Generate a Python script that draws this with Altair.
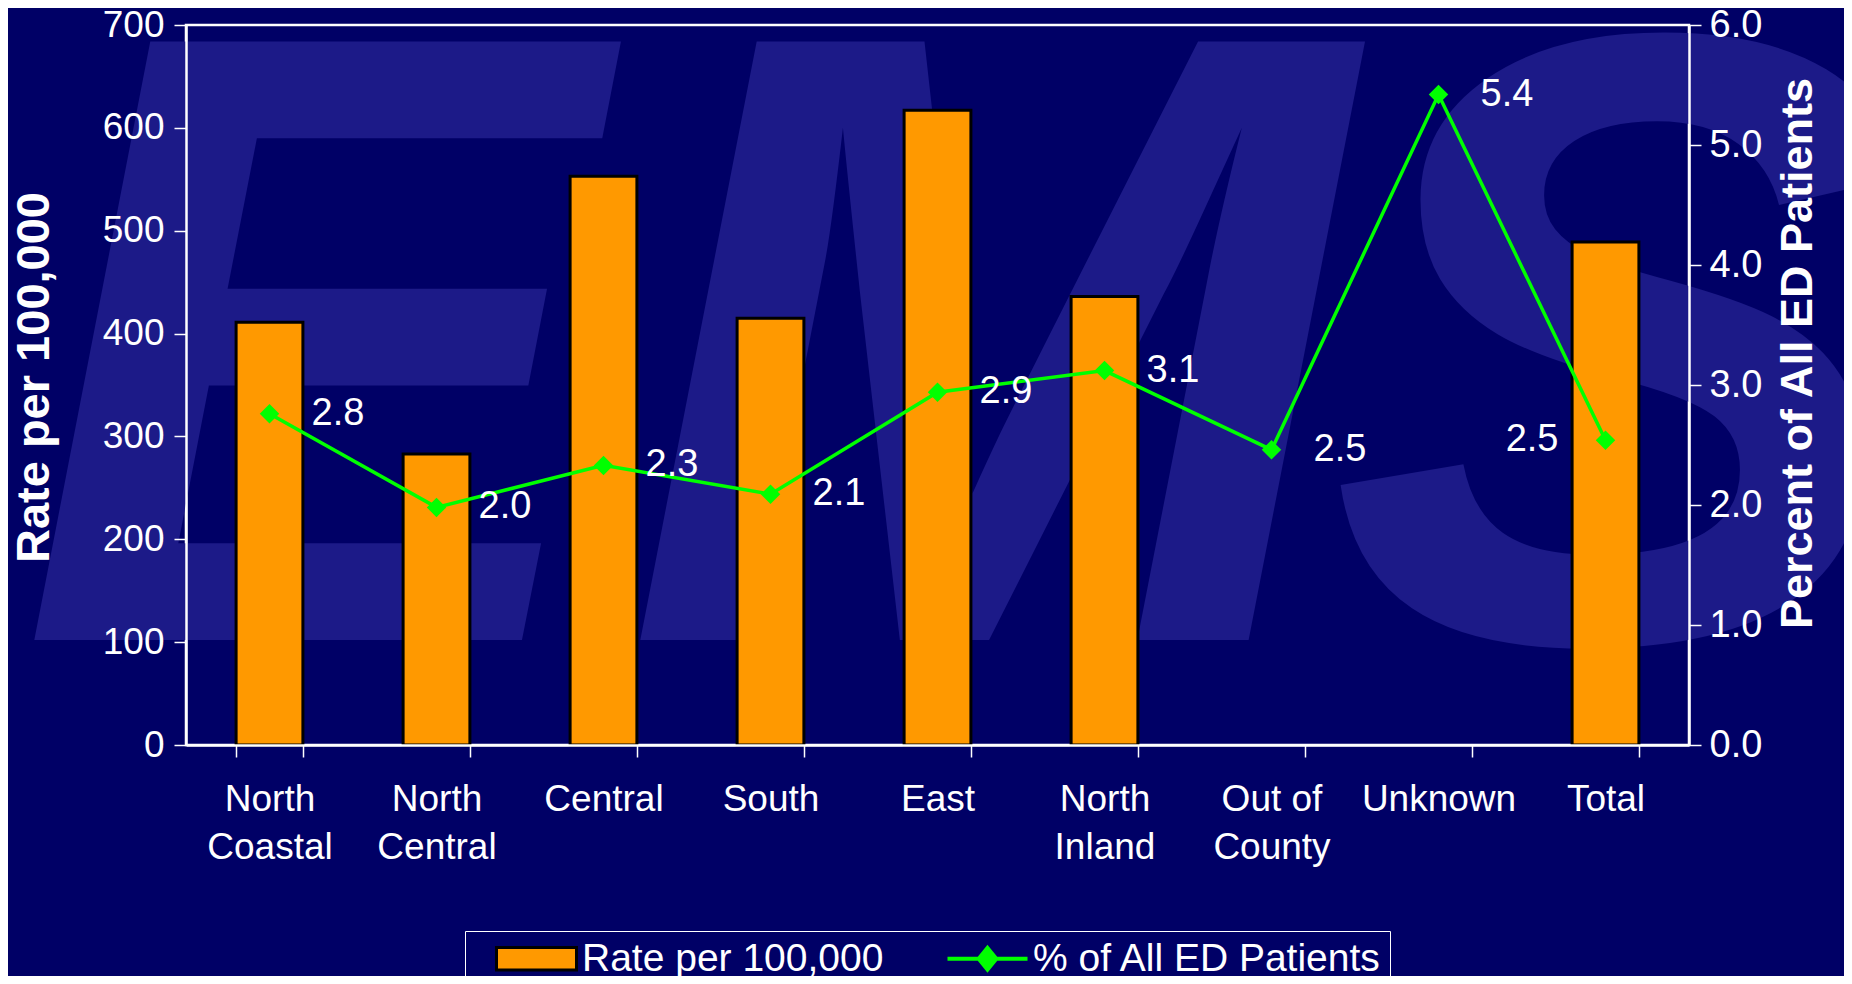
import altair as alt
import pandas as pd

categories = ["North Coastal", "North Central", "Central", "South", "East",
              "North Inland", "Out of County", "Unknown", "Total"]
rate_per_100k = [411, 283, 553, 415, 617, 436, None, None, 489]
pct_ed_patients = [2.76, 1.98, 2.33, 2.09, 2.94, 3.12, 2.46, 5.42, 2.54]
series_names = ["Rate per 100,000", "% of All ED Patients"]
watermark_letters = ["E", "M", "S"]

BG = "#000066"
WM = "#1C1A88"
ORANGE = "#FF9900"
GREEN = "#00FF00"
FONT = "Liberation Sans"

df = pd.DataFrame({"category": categories, "rate": rate_per_100k, "pct": pct_ed_patients})

x_enc = alt.X(
    "category:N",
    sort=categories,
    scale=alt.Scale(paddingInner=0.6, paddingOuter=0.3),
    axis=alt.Axis(
        title=None,
        labelAngle=0,
        labelExpr="datum.label == 'Out of County' ? ['Out of', 'County'] : split(datum.label, ' ')",
        labelFontSize=37,
        labelLineHeight=48,
        labelPadding=24,
        labelBaseline="top",
        tickBand="extent",
        tickSize=12,
        tickColor="white",
        tickWidth=1.5,
        domainColor="white",
        domainWidth=2.5,
        labelColor="white",
        labelFont=FONT,
        zindex=2,
    ),
)

# decorative background lettering (one text mark per letter)
wm_pos = {"E": -167, "M": 439, "S": 1144}
wm_layers = [
    alt.Chart(pd.DataFrame({"t": [letter]})).mark_text(
        font=FONT, fontSize=870, fontWeight="bold", fontStyle="italic",
        color=WM, align="left", baseline="alphabetic",
    ).encode(text="t:N", x=alt.value(wm_pos[letter]), y=alt.value(615))
    for letter in watermark_letters
]

is_rate = "datum.value === 'Rate per 100,000'"

bars = alt.Chart(df).transform_calculate(series="'Rate per 100,000'").mark_bar(
    stroke="black", strokeWidth=3
).encode(
    x=x_enc,
    y=alt.Y(
        "rate:Q",
        scale=alt.Scale(domain=[0, 700], nice=False),
        axis=alt.Axis(
            orient="left",
            title="Rate per 100,000",
            values=[0, 100, 200, 300, 400, 500, 600, 700],
            format="d",
            titleFontSize=47,
            titleFontWeight="bold",
            titleColor="white",
            titleFont=FONT,
            titlePadding=44,
            titleY=352,
            labelFontSize=37,
            labelColor="white",
            labelFont=FONT,
            labelPadding=10,
            tickSize=12,
            tickColor="white",
            tickWidth=1.5,
            domainColor="white",
            domainWidth=2.5,
            grid=False,
            zindex=2,
        ),
    ),
    color=alt.Color(
        "series:N",
        scale=alt.Scale(domain=series_names, range=[ORANGE, GREEN]),
        legend=alt.Legend(
            title=None,
            orient="none",
            legendX=279,
            legendY=906,
            direction="horizontal",
            columns=2,
            columnPadding=40,
            padding=8,
            symbolOffset=44,
            symbolSize=6400,
            labelOffset=26,
            labelFontSize=39,
            labelColor="white",
            labelFont=FONT,
            labelLimit=600,
            strokeColor="white",
            fillColor=BG,
            symbolOpacity=1,
            symbolType=alt.ExprRef(expr=is_rate + " ? 'M-1,-0.28H1V0.28H-1Z' : 'M-1,0H1M0,-0.27L0.22,0L0,0.27L-0.22,0Z'"),
            symbolStrokeColor=alt.ExprRef(expr=is_rate + " ? 'black' : '#00FF00'"),
            symbolStrokeWidth=alt.ExprRef(expr=is_rate + " ? 3 : 4"),
            zindex=2,
        ),
    ),
)

y_right = alt.Y(
    "pct:Q",
    scale=alt.Scale(domain=[0, 6], nice=False),
    axis=alt.Axis(
        orient="right",
        title="Percent of All ED Patients",
        values=[0, 1, 2, 3, 4, 5, 6],
        format=".1f",
        titleFontSize=45,
        titleFontWeight="bold",
        titleColor="white",
        titleFont=FONT,
        titleAngle=270,
        titleBaseline="top",
        titlePadding=14,
        titleY=328,
        labelFontSize=38,
        labelColor="white",
        labelFont=FONT,
        labelPadding=8,
        tickSize=12,
        tickColor="white",
        tickWidth=1.5,
        domainColor="white",
        domainWidth=2.5,
        grid=False,
        zindex=2,
    ),
)

base_line = alt.Chart(df)
line = base_line.mark_line(color=GREEN, strokeWidth=3.5).encode(x=alt.X("category:N", sort=categories), y=y_right)
points = base_line.mark_point(shape="diamond", filled=True, color=GREEN, size=380, opacity=1).encode(
    x=alt.X("category:N", sort=categories), y="pct:Q")
labels_right = base_line.transform_filter("datum.category != 'Total'").mark_text(
    align="left", baseline="middle", dx=42, font=FONT, fontSize=38, color="white"
).encode(x=alt.X("category:N", sort=categories), y="pct:Q", text=alt.Text("pct:Q", format=".1f"))
labels_left = base_line.transform_filter("datum.category == 'Total'").mark_text(
    align="right", baseline="middle", dx=-47, font=FONT, fontSize=38, color="white"
).encode(x=alt.X("category:N", sort=categories), y="pct:Q", text=alt.Text("pct:Q", format=".1f"))

line_group = alt.layer(line, points, labels_right, labels_left)

chart = alt.layer(*wm_layers, bars, line_group).resolve_scale(y="independent").properties(
    width=1503,
    height=720,
    background=BG,
    autosize=alt.AutoSizeParams(type="none"),
    padding={"left": 178, "top": 17, "right": 155, "bottom": 231},
).configure_view(stroke="white", strokeWidth=2.5)

chart.save("out.html", embed_options={"renderer": "svg", "actions": False})
